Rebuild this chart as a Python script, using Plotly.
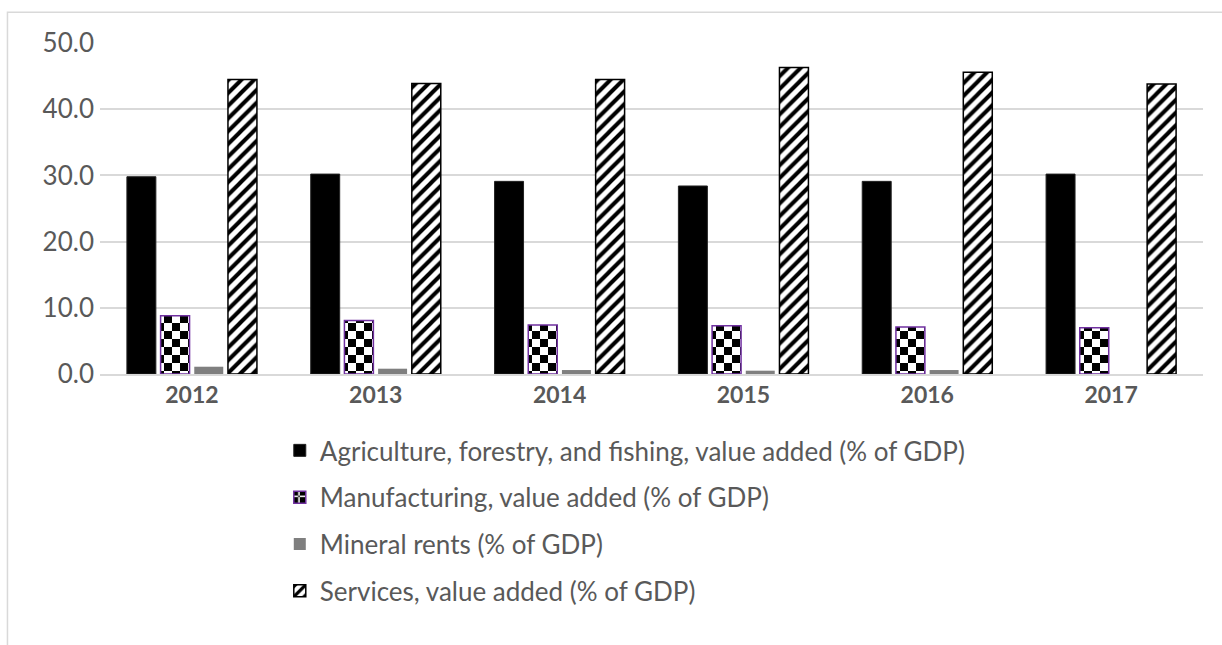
import plotly.graph_objects as go

# Share of GDP by sector, 2012-2017
years = ["2012", "2013", "2014", "2015", "2016", "2017"]
agriculture = [29.8, 30.2, 29.1, 28.4, 29.1, 30.2]
manufacturing = [8.8, 8.1, 7.4, 7.3, 7.1, 7.0]
mineral_rents = [1.1, 0.8, 0.6, 0.5, 0.6, 0.0]
services = [44.5, 43.9, 44.5, 46.3, 45.6, 43.8]

names = [
    "Agriculture, forestry, and fishing, value added (% of GDP)",
    "Manufacturing, value added (% of GDP)",
    "Mineral rents (% of GDP)",
    "Services, value added (% of GDP)",
]
y_ticks = [0, 10, 20, 30, 40, 50]

TEXT = "#595959"
GRID = "#D9D9D9"
FONT = "Lato, 'Open Sans', sans-serif"

# checkerboard tile for the manufacturing bars
tile = 16
h = tile / 2
checker = f"M0,0H{h}V{h}H0Z M{h},{h}H{tile}V{tile}H{h}Z"

fig = go.Figure()
fig.add_trace(go.Bar(
    x=years, y=agriculture, name=names[0], legendgroup="a",
    marker=dict(color="black", line=dict(color="#222222", width=1)),
))
fig.add_trace(go.Bar(
    x=years, y=manufacturing, name=names[1], legendgroup="b",
    marker=dict(color="white", line=dict(color="#7030A0", width=1.5),
                pattern=dict(path=checker, size=tile, fgcolor="black",
                             bgcolor="white", fgopacity=1)),
))
fig.add_trace(go.Bar(
    x=years, y=mineral_rents, name=names[2], legendgroup="c",
    marker=dict(color="#7F7F7F", line=dict(width=0)),
))
fig.add_trace(go.Bar(
    x=years, y=services, name=names[3], legendgroup="d",
    marker=dict(color="white", line=dict(color="black", width=1.5),
                pattern=dict(shape="/", size=9, solidity=0.45, fgcolor="black",
                             bgcolor="white", fgopacity=1)),
))

fig.update_layout(
    width=1222, height=645, autosize=False,
    paper_bgcolor="white", plot_bgcolor="white",
    margin=dict(l=100, r=19, t=43, b=271),
    barmode="group", bargap=0.267, bargroupgap=0.14,
    font=dict(family=FONT, color=TEXT, size=26),
    showlegend=True,
    legend=dict(
        orientation="v", x=0.163, xanchor="left", y=-0.16, yanchor="top",
        font=dict(family=FONT, size=26, color=TEXT),
        tracegroupgap=10, bgcolor="rgba(0,0,0,0)",
    ),
    shapes=[dict(
        type="rect", xref="paper", yref="paper",
        x0=-0.0839, x1=1.2, y0=-1.0, y1=1.0927,
        line=dict(color=GRID, width=1.5), fillcolor="rgba(0,0,0,0)", layer="below",
    )],
)
fig.update_xaxes(
    type="category", showgrid=False, showline=True, linecolor=GRID, linewidth=1.5,
    ticks="", tickfont=dict(family=FONT, size=23, color=TEXT, weight="bold"),
)
fig.update_yaxes(
    range=[0, 50], tickvals=y_ticks, tickformat=".1f", showgrid=True,
    gridcolor=GRID, gridwidth=1.5, zeroline=False, showline=False,
    ticks="", ticklabelstandoff=5, tickfont=dict(family=FONT, size=26, color=TEXT),
)

fig.write_html("out.html")
